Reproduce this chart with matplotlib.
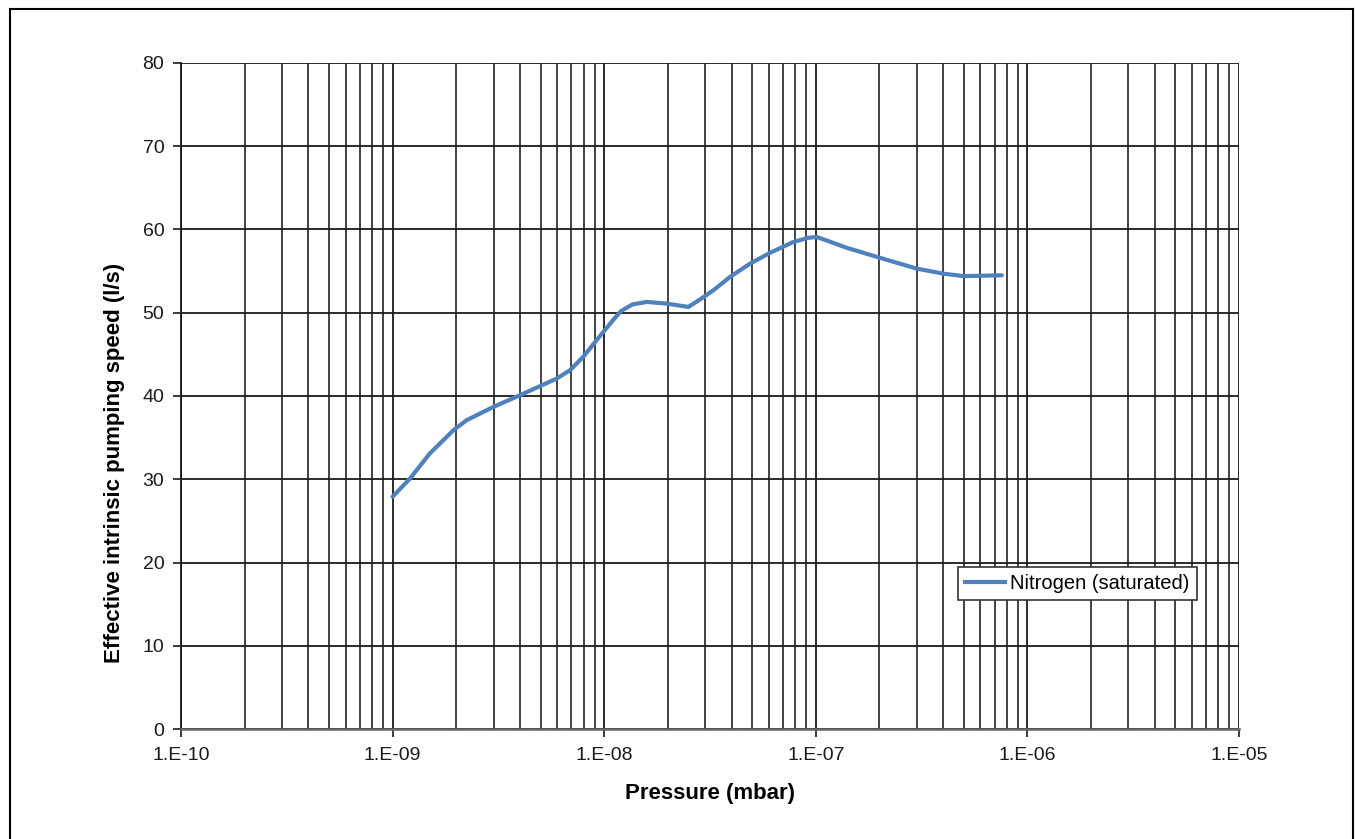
import matplotlib
matplotlib.use("Agg")
import matplotlib.pyplot as plt
from matplotlib.ticker import LogLocator, FixedLocator, FuncFormatter, NullFormatter
from matplotlib.lines import Line2D

plt.rcParams['font.family'] = ['Liberation Sans', 'DejaVu Sans']

# Data
pressure_mbar = [1.0e-9, 1.21e-9, 1.50e-9, 1.94e-9, 2.24e-9, 3.0e-9, 4.0e-9,
                 5.97e-9, 6.9e-9, 7.96e-9, 9.2e-9, 1.10e-8, 1.20e-8, 1.36e-8, 1.59e-8,
                 1.97e-8, 2.5e-8, 2.84e-8, 3.28e-8, 3.93e-8, 4.89e-8, 6.08e-8,
                 7.83e-8, 0.92e-7, 1.01e-7, 1.12e-7, 1.40e-7, 2.01e-7, 3.0e-7, 4.0e-7,
                 4.98e-7, 7.57e-7]
speed_ls = [27.9, 30.1, 33.1, 35.9, 37.1, 38.7, 40.1,
            42.1, 43.1, 44.7, 46.7, 49.1, 50.2, 51.0, 51.3,
            51.1, 50.7, 51.6, 52.7, 54.3, 55.9, 57.2,
            58.5, 59.0, 59.1, 58.7, 57.8, 56.6, 55.3, 54.7,
            54.4, 54.5]
series_name = "Nitrogen (saturated)"
x_ticks = [1e-10, 1e-9, 1e-8, 1e-7, 1e-6, 1e-5]
x_tick_labels = ["1.E-10", "1.E-09", "1.E-08", "1.E-07", "1.E-06", "1.E-05"]
y_ticks = [0, 10, 20, 30, 40, 50, 60, 70, 80]

fig = plt.figure(figsize=(13.55, 8.39), dpi=100)
ax = fig.add_axes([181/1355, 1 - 729/839, (1239 - 181)/1355, (729 - 63)/839])

ax.plot(pressure_mbar, speed_ls, color='#4F81BD', lw=3.0, solid_capstyle='round',
        solid_joinstyle='round', zorder=3)

ax.set_xscale('log')
ax.set_xlim(1e-10, 1e-5)
ax.set_ylim(0, 80)

def fmt_x(v, p):
    best = min(range(len(x_ticks)), key=lambda i: abs(x_ticks[i] - v) / x_ticks[i])
    return x_tick_labels[best]

ax.xaxis.set_major_locator(FixedLocator(x_ticks))
ax.xaxis.set_major_formatter(FuncFormatter(fmt_x))
ax.xaxis.set_minor_locator(LogLocator(base=10, subs=range(2, 10), numticks=100))
ax.xaxis.set_minor_formatter(NullFormatter())
ax.yaxis.set_major_locator(FixedLocator(y_ticks))

ax.grid(True, which='major', color='#1a1a1a', lw=1.3)
ax.grid(True, which='minor', axis='x', color='#222222', lw=1.2)
ax.set_axisbelow(True)

for s in ['top', 'right']:
    ax.spines[s].set_visible(False)
ax.spines['left'].set_color('#1a1a1a')
ax.spines['bottom'].set_color('#666666')
ax.spines['left'].set_linewidth(1.3)
ax.spines['bottom'].set_linewidth(1.8)

ax.tick_params(axis='x', which='major', direction='out', length=6, width=1.2,
               labelsize=14, pad=7, colors='#1a1a1a')
ax.tick_params(axis='x', which='minor', length=0)
ax.tick_params(axis='y', which='major', direction='out', length=6, width=1.2,
               labelsize=14, pad=6, colors='#1a1a1a')

ax.set_xlabel("Pressure (mbar)", fontsize=16, fontweight='bold', labelpad=14)
ax.set_ylabel("Effective intrinsic pumping speed (l/s)", fontsize=16,
              fontweight='bold', va='center')
ax.yaxis.set_label_coords((115 - 181) / 1058, (729 - 463) / 666)

leg = ax.legend([Line2D([0], [0], color='#4F81BD', lw=3)], [series_name],
                loc='upper left', bbox_to_anchor=((958 - 181) / 1058, 1 - (567 - 63) / 666),
                fontsize=14.5, frameon=True, fancybox=False, handlelength=2.0,
                handletextpad=0.25, borderpad=0.35, borderaxespad=0)
leg.get_frame().set_edgecolor('#333333')
leg.get_frame().set_linewidth(1.2)
leg.get_frame().set_alpha(1)

# outer chart border (left, top, right)
fig.add_artist(Line2D([10/1355, 10/1355], [0, 1 - 9/839], transform=fig.transFigure, color='black', lw=1.5))
fig.add_artist(Line2D([10/1355, 1353/1355], [1 - 9/839, 1 - 9/839], transform=fig.transFigure, color='black', lw=1.5))
fig.add_artist(Line2D([1353/1355, 1353/1355], [0, 1 - 9/839], transform=fig.transFigure, color='black', lw=1.5))

fig.savefig("out.png", dpi=100)
